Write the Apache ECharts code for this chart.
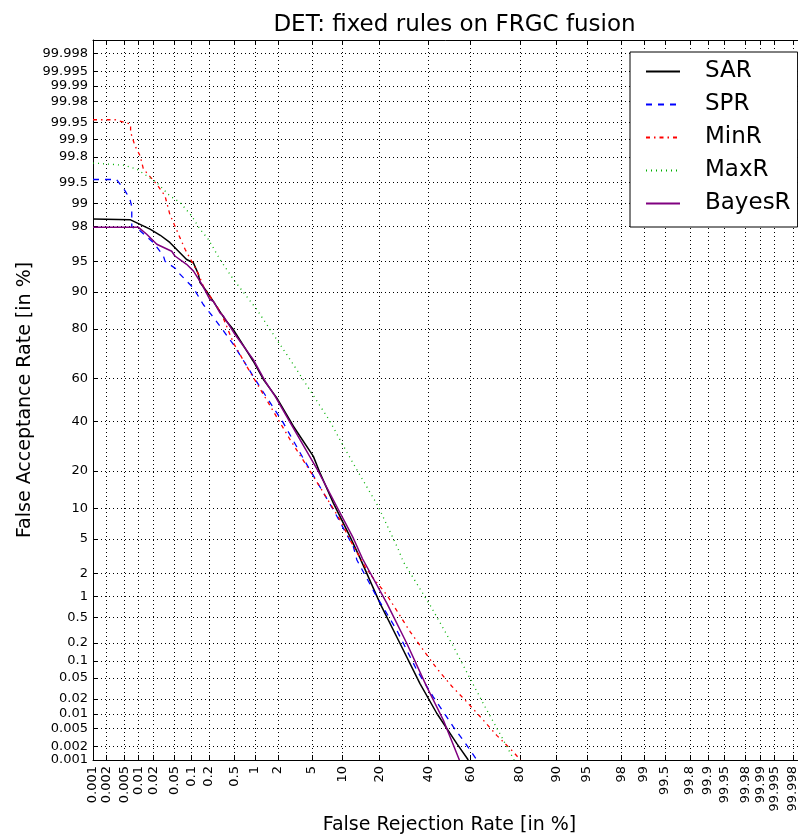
<!DOCTYPE html>
<html>
<head>
<meta charset="utf-8">
<script src="https://cdn.jsdelivr.net/npm/echarts@6/dist/echarts.min.js"></script>
<style>
  html, body { margin: 0; padding: 0; background: #fff; }
  #chart { width: 798px; height: 838px; }
</style>
</head>
<body>
<div id="chart"></div>
<script>
// tick labels (same on both axes), in percent
const tickLabels = ['0.001', '0.002', '0.005', '0.01', '0.02', '0.05', '0.1', '0.2', '0.5',
  '1', '2', '5', '10', '20', '40', '60', '80', '90', '95', '98', '99', '99.5', '99.8',
  '99.9', '99.95', '99.98', '99.99', '99.995', '99.998']

const seriesNames = ['SAR', 'SPR', 'MinR', 'MaxR', 'BayesR']

// DET curves, FRR and FAR in percent
const sarFrr = [0.001, 0.0068, 0.017, 0.027, 0.041, 0.083, 0.109, 0.133, 0.142, 0.184, 0.363, 0.486, 0.946,
  1.30, 1.94, 3.09, 5.17, 6.08, 8.24, 11.7, 14.2, 20.3, 27.7, 36.2, 44.0, 53.5, 58.9]
const sarFar = [98.40, 98.36, 97.85, 97.45, 96.9, 95.2, 94.8, 93.2, 91.8, 90.1, 83.0, 79.8, 67.7,
  59.6, 51.0, 37.8, 25.2, 19.3, 11.1, 5.28, 3.07, 0.80, 0.196, 0.039, 0.0102, 0.00234, 0.001]

const sprFrr = [0.001, 0.0034, 0.0052, 0.0066, 0.0072, 0.0072, 0.0098, 0.0198, 0.031, 0.0333, 0.055, 0.063,
  0.109, 0.161, 0.252, 0.486, 1.11, 2.34, 4.20, 8.24, 12.5, 13.4, 19.2, 26.4, 34.8, 42.3, 51.9, 58.2, 62.8]
const sprFar = [99.55, 99.55, 99.34, 99.13, 98.9, 97.97, 97.85, 96.9, 95.6, 95.0, 93.9, 93.2,
  90.8, 87.1, 83.0, 74.5, 57.3, 39.3, 23.3, 9.66, 4.12, 2.90, 0.99, 0.32, 0.0685, 0.0218, 0.00535, 0.00215, 0.001]

const minFrr = [0.001, 0.0032, 0.0068, 0.0068, 0.0084, 0.0107, 0.0125, 0.0231, 0.0333, 0.041, 0.051, 0.063,
  0.078, 0.117, 0.138, 0.161, 0.208, 0.268, 0.322, 0.486, 0.764, 1.30, 2.83, 5.17, 9.53, 11.7, 16.1,
  22.7, 27.1, 31.9, 37.7, 44.0, 51.1, 58.2, 65.1, 71.4, 77.8, 80.2]
const minFar = [99.955, 99.955, 99.946, 99.925, 99.87, 99.81, 99.69, 99.47, 99.22, 98.61, 98.04, 97.28,
  96.29, 94.16, 92.9, 91.15, 89.1, 86.7, 84.5, 75.1, 65.5, 52.6, 31.9, 18.3, 7.78, 4.88, 2.21,
  1.04, 0.574, 0.302, 0.152, 0.0734, 0.0348, 0.0174, 0.0080, 0.00355, 0.00152, 0.001]

const maxFrr = [0.001, 0.0048, 0.0091, 0.0231, 0.041, 0.063, 0.102, 0.142, 0.196, 0.302, 0.486, 1.06,
  1.94, 2.83, 4.97, 7.65, 9.87, 13.4, 19.7, 27.1, 29.0, 40.8, 51.1, 59.7, 66.5, 73.4, 78.0]
const maxFar = [99.75, 99.73, 99.69, 99.50, 99.22, 99.04, 98.54, 97.85, 97.15, 95.2, 92.35, 85.8,
  76.3, 68.4, 53.3, 40.0, 30.5, 20.4, 10.35, 3.79, 2.77, 0.757, 0.196, 0.0485, 0.0138, 0.00326, 0.001]

const bayesFrr = [0.001, 0.0098, 0.0146, 0.0231, 0.0445, 0.051, 0.083, 0.109, 0.152, 0.208, 0.236, 0.302,
  0.342, 0.516, 0.946, 1.37, 1.85, 3.09, 5.83, 8.87, 12.5, 14.9, 22.7, 30.5, 39.3, 47.1, 54.7]
const bayesFar = [97.97, 97.97, 97.52, 96.75, 96.1, 95.6, 94.6, 93.7, 91.5, 88.3, 87.9, 84.9,
  84.0, 78.1, 68.4, 58.8, 51.7, 37.0, 19.9, 10.35, 5.08, 3.0, 0.80, 0.196, 0.0338, 0.0074, 0.001]

// inverse normal CDF (Acklam), DET axes are in normal deviates
function probit(p) {
  const a = [-3.969683028665376e+01, 2.209460984245205e+02, -2.759285104469687e+02,
    1.383577518672690e+02, -3.066479806614716e+01, 2.506628277459239e+00]
  const b = [-5.447609879822406e+01, 1.615858368580409e+02, -1.556989798598866e+02,
    6.680131188771972e+01, -1.328068155288572e+01]
  const c = [-7.784894002430293e-03, -3.223964580411365e-01, -2.400758277161838e+00,
    -2.549671348279253e+00, 4.374664141464968e+00, 2.938163982698783e+00]
  const d = [7.784695709041462e-03, 3.224671290700398e-01, 2.445134137142996e+00,
    3.754408661907416e+00]
  const plow = 0.02425
  if (p < plow) {
    const q = Math.sqrt(-2 * Math.log(p))
    return (((((c[0] * q + c[1]) * q + c[2]) * q + c[3]) * q + c[4]) * q + c[5]) /
      ((((d[0] * q + d[1]) * q + d[2]) * q + d[3]) * q + 1)
  }
  if (p <= 1 - plow) {
    const q = p - 0.5
    const r = q * q
    return (((((a[0] * r + a[1]) * r + a[2]) * r + a[3]) * r + a[4]) * r + a[5]) * q /
      (((((b[0] * r + b[1]) * r + b[2]) * r + b[3]) * r + b[4]) * r + 1)
  }
  const q = Math.sqrt(-2 * Math.log(1 - p))
  return -(((((c[0] * q + c[1]) * q + c[2]) * q + c[3]) * q + c[4]) * q + c[5]) /
    ((((d[0] * q + d[1]) * q + d[2]) * q + d[3]) * q + 1)
}

const pct = v => probit(v / 100)
const tickVals = tickLabels.map(s => pct(parseFloat(s)))
const zLo = pct(0.001)
const zHi = -zLo

function tickFormatter(v) {
  let best = 0
  tickVals.forEach((t, i) => { if (Math.abs(t - v) < Math.abs(tickVals[best] - v)) best = i })
  return tickLabels[best]
}

function toPoints(frr, far) {
  return frr.map((x, i) => [pct(x), pct(far[i])])
}

const font = 'DejaVu Sans'
const gridLine = { show: true, lineStyle: { color: '#000', width: 1, type: [1, 3] } }

const chart = echarts.init(document.getElementById('chart'))

const option = {
  animation: false,
  backgroundColor: '#fff',
  title: {
    text: 'DET: fixed rules on FRGC fusion',
    left: 449.5,
    textAlign: 'center',
    top: 9,
    textStyle: { fontFamily: font, fontSize: 23, fontWeight: 'normal', color: '#000' }
  },
  legend: {
    data: seriesNames,
    orient: 'vertical',
    left: 630,
    top: 52,
    padding: [8, 7, 12, 15],
    itemWidth: 34,
    itemHeight: 14,
    itemGap: 10,
    borderColor: '#000',
    borderWidth: 1,
    borderRadius: 0,
    backgroundColor: '#fff',
    itemStyle: { opacity: 0 },
    textStyle: { fontFamily: font, fontSize: 23, lineHeight: 22, color: '#000', padding: [0, 0, 0, 20] }
  },
  grid: { left: 93, right: -8, top: 40, bottom: 78, show: false, outerBoundsMode: 'none' },
  xAxis: [
    {
      type: 'value',
      min: zLo,
      max: zHi,
      position: 'bottom',
      axisLine: { show: true, onZero: false, lineStyle: { color: '#000', width: 1 } },
      axisTick: { show: true, inside: true, length: 5, customValues: tickVals, lineStyle: { color: '#000' } },
      axisLabel: {
        customValues: tickVals, formatter: tickFormatter, rotate: 90,
        fontFamily: font, fontSize: 13, color: '#000', margin: 6
      },
      splitLine: gridLine,
      name: 'False Rejection Rate [in %]',
      nameLocation: 'middle',
      nameGap: 56,
      nameMoveOverlap: false,
      nameTextStyle: { fontFamily: font, fontSize: 19, color: '#000' }
    },
    {
      type: 'value',
      min: zLo,
      max: zHi,
      position: 'top',
      axisLine: { show: true, onZero: false, lineStyle: { color: '#000', width: 1 } },
      axisTick: { show: true, inside: true, length: 5, customValues: tickVals, lineStyle: { color: '#000' } },
      axisLabel: { show: false },
      splitLine: { show: false }
    }
  ],
  yAxis: {
    type: 'value',
    min: zLo,
    max: zHi,
    axisLine: { show: true, onZero: false, lineStyle: { color: '#000', width: 1 } },
    axisTick: { show: true, inside: true, length: 5, customValues: tickVals, lineStyle: { color: '#000' } },
    axisLabel: {
      customValues: tickVals, formatter: tickFormatter,
      fontFamily: font, fontSize: 13, color: '#000', margin: 5
    },
    splitLine: gridLine,
    name: 'False Acceptance Rate [in %]',
    nameLocation: 'middle',
    nameGap: 58,
    nameMoveOverlap: false,
    nameTextStyle: { fontFamily: font, fontSize: 19, color: '#000' }
  },
  series: [
    {
      name: 'SAR', type: 'line', symbol: 'none',
      data: toPoints(sarFrr, sarFar),
      lineStyle: { color: '#000000', width: 1.5, type: 'solid' },
      itemStyle: { color: '#000000' }
    },
    {
      name: 'SPR', type: 'line', symbol: 'none',
      data: toPoints(sprFrr, sprFar),
      lineStyle: { color: '#0000ff', width: 1.3, type: [6, 6] },
      itemStyle: { color: '#0000ff' }
    },
    {
      name: 'MinR', type: 'line', symbol: 'none',
      data: toPoints(minFrr, minFar),
      lineStyle: { color: '#ff0000', width: 1.3, type: [4, 4, 1.5, 4] },
      itemStyle: { color: '#ff0000' }
    },
    {
      name: 'MaxR', type: 'line', symbol: 'none',
      data: toPoints(maxFrr, maxFar),
      lineStyle: { color: '#00b000', width: 1.3, type: [1, 4] },
      itemStyle: { color: '#00b000' }
    },
    {
      name: 'BayesR', type: 'line', symbol: 'none',
      data: toPoints(bayesFrr, bayesFar),
      lineStyle: { color: '#800080', width: 1.5, type: 'solid' },
      itemStyle: { color: '#800080' }
    }
  ]
}

chart.setOption(option)
</script>
</body>
</html>
